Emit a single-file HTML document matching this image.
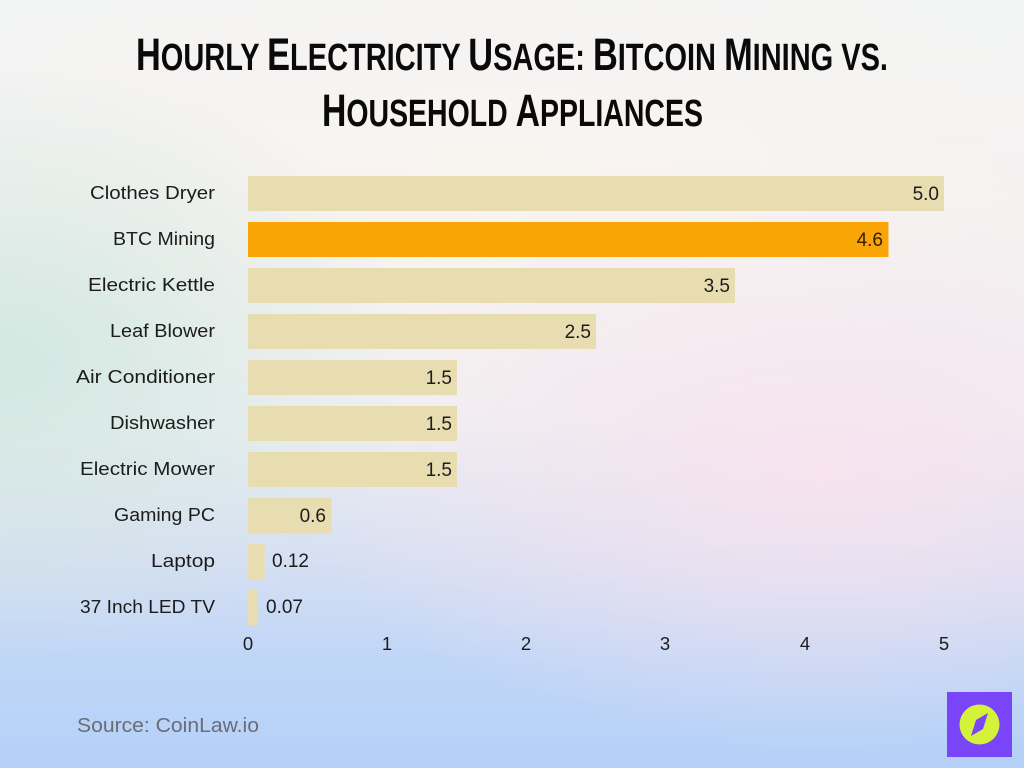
<!DOCTYPE html>
<html>
<head>
<meta charset="utf-8">
<style>
html,body{margin:0;padding:0;width:1024px;height:768px;overflow:hidden;}
body{position:relative;background:#eef0f0;}
.bg{position:absolute;inset:0;
background:
 radial-gradient(ellipse 420px 300px at 0px 360px, rgba(205,230,222,0.85), rgba(205,230,222,0) 100%),
 radial-gradient(ellipse 520px 280px at 820px 470px, rgba(248,226,238,0.9), rgba(248,226,238,0) 100%),
 radial-gradient(ellipse 600px 260px at 500px 180px, rgba(250,244,240,0.8), rgba(250,244,240,0) 100%),
 linear-gradient(180deg,#f3f4f4 0px,#f4f2f1 200px,#eef0f2 420px,#d6dff3 560px,#c0d6f7 660px,#b4d0f8 768px);}
svg{position:absolute;left:0;top:0;}
</style>
</head>
<body>
<div class="bg"></div>
<svg width="1024" height="768" viewBox="0 0 1024 768" xmlns="http://www.w3.org/2000/svg">
 <g font-family="'Liberation Sans Narrow','Liberation Sans',sans-serif" font-weight="bold" fill="#0a0a0a">
  <text x="136" y="70" textLength="752" lengthAdjust="spacingAndGlyphs"><tspan font-size="45">H</tspan><tspan font-size="38">OURLY </tspan><tspan font-size="45">E</tspan><tspan font-size="38">LECTRICITY </tspan><tspan font-size="45">U</tspan><tspan font-size="38">SAGE: </tspan><tspan font-size="45">B</tspan><tspan font-size="38">ITCOIN </tspan><tspan font-size="45">M</tspan><tspan font-size="38">INING VS.</tspan></text>
  <text x="322" y="126" textLength="381" lengthAdjust="spacingAndGlyphs"><tspan font-size="45">H</tspan><tspan font-size="38">OUSEHOLD </tspan><tspan font-size="45">A</tspan><tspan font-size="38">PPLIANCES</tspan></text>
 </g>
 <g fill="#e8ddb0">
  <rect x="248" y="176" width="696" height="35"/>
  <rect x="248" y="268" width="487" height="35"/>
  <rect x="248" y="314" width="348" height="35"/>
  <rect x="248" y="360" width="209" height="35"/>
  <rect x="248" y="406" width="209" height="35"/>
  <rect x="248" y="452" width="209" height="35"/>
  <rect x="248" y="498" width="83.5" height="35"/>
  <rect x="248" y="544" width="16.7" height="35"/>
  <rect x="248" y="590" width="9.7" height="35"/>
 </g>
 <rect x="248" y="222" width="640.5" height="35" fill="#f9a505"/>
 <g font-family="'Liberation Sans',sans-serif" font-size="18.5" fill="#1c1c1c">
  <text x="90" y="199" textLength="125" lengthAdjust="spacingAndGlyphs">Clothes Dryer</text>
  <text x="113" y="245" textLength="102" lengthAdjust="spacingAndGlyphs">BTC Mining</text>
  <text x="88" y="291" textLength="127" lengthAdjust="spacingAndGlyphs">Electric Kettle</text>
  <text x="110" y="337" textLength="105" lengthAdjust="spacingAndGlyphs">Leaf Blower</text>
  <text x="76" y="383" textLength="139" lengthAdjust="spacingAndGlyphs">Air Conditioner</text>
  <text x="110" y="429" textLength="105" lengthAdjust="spacingAndGlyphs">Dishwasher</text>
  <text x="80" y="475" textLength="135" lengthAdjust="spacingAndGlyphs">Electric Mower</text>
  <text x="114" y="521" textLength="101" lengthAdjust="spacingAndGlyphs">Gaming PC</text>
  <text x="151" y="567" textLength="64" lengthAdjust="spacingAndGlyphs">Laptop</text>
  <text x="80" y="613" textLength="135" lengthAdjust="spacingAndGlyphs">37 Inch LED TV</text>
 </g>
 <g font-family="'Liberation Sans',sans-serif" font-size="19" fill="#1c1c1c" text-anchor="end">
  <text x="939" y="200">5.0</text>
  <text x="883" y="246" fill="#3a1a00">4.6</text>
  <text x="730" y="292">3.5</text>
  <text x="591" y="338">2.5</text>
  <text x="452" y="384">1.5</text>
  <text x="452" y="430">1.5</text>
  <text x="452" y="476">1.5</text>
  <text x="326" y="522">0.6</text>
 </g>
 <g font-family="'Liberation Sans',sans-serif" font-size="19" fill="#1c1c1c">
  <text x="272" y="567">0.12</text>
  <text x="266" y="613">0.07</text>
 </g>
 <g font-family="'Liberation Sans',sans-serif" font-size="18.5" fill="#1c1c1c" text-anchor="middle">
  <text x="248" y="650">0</text>
  <text x="387" y="650">1</text>
  <text x="526" y="650">2</text>
  <text x="665" y="650">3</text>
  <text x="805" y="650">4</text>
  <text x="944" y="650">5</text>
 </g>
 <text x="77" y="732" font-family="'Liberation Sans',sans-serif" font-size="20" fill="#6a6c78" textLength="182" lengthAdjust="spacingAndGlyphs">Source: CoinLaw.io</text>
 <rect x="947" y="692" width="65" height="65" fill="#7a45f8"/>
 <circle cx="979.5" cy="724.5" r="20" fill="#d4f23a"/>
 <path d="M988 713 L983 729 L971 736 L976 720 Z" fill="#7a45f8"/>
</svg>
</body>
</html>
